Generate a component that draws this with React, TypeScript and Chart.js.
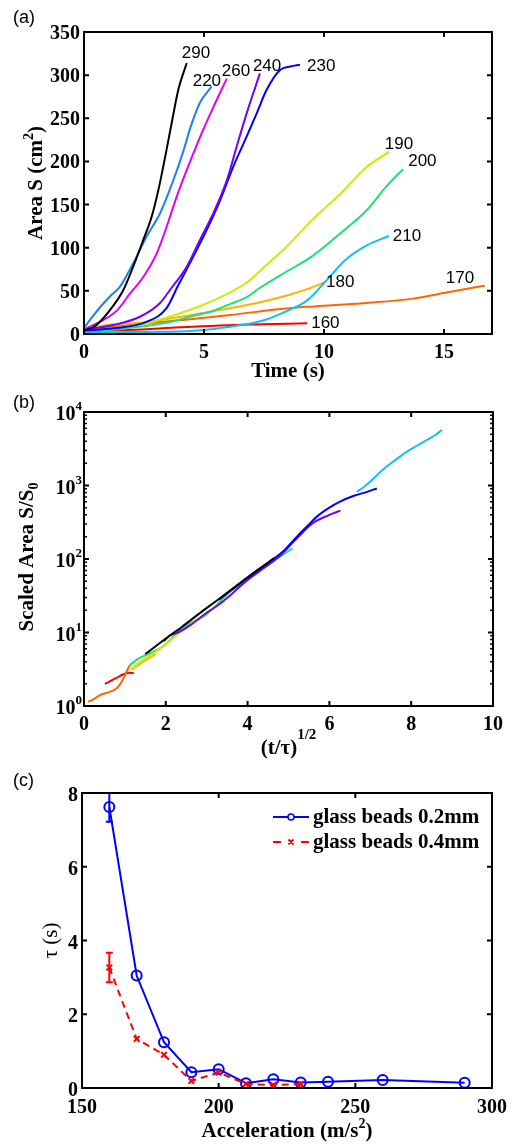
import React, { useEffect, useRef } from "react";
import { Chart, registerables } from "chart.js";
Chart.register(...registerables);

const SERIF = '"Liberation Serif", "Times New Roman", Times, serif';
const SANS = '"Liberation Sans", Arial, Helvetica, sans-serif';

// ---------------- Panel (a): area vs time ----------------
const aXTicks = [0, 5, 10, 15];
const aYTicks = [0, 50, 100, 150, 200, 250, 300, 350];
const aCurveLabels = ["160", "170", "180", "190", "200", "210", "220", "230", "240", "260", "290"];
const aColors = ["#FF0000", "#FF6600", "#FFB300", "#C4F000", "#20E070", "#10C0F0", "#1E80F0", "#0000FF", "#7000FF", "#DD00FF", "#000000"];

const aT160 = [0, 0.25, 1.9, 4.0, 6.8, 9.3];
const aS160 = [1.5, 3, 4.6, 7.7, 11, 12.4];
const aT170 = [0, 0.25, 1.9, 4.0, 6.1, 8.2, 9.6, 11.6, 13.7, 15.1, 16.7];
const aS170 = [2.5, 4.6, 10.4, 16, 22, 29, 32, 35.6, 41, 48, 56];
const aT180 = [0, 0.5, 2.6, 4.5, 5.7, 7.2, 8.5, 9.3, 10.0];
const aS180 = [4, 8.5, 14, 22, 28, 36, 45, 52, 59.5];
const aT190 = [0, 1.2, 2.6, 4.0, 5.4, 6.8, 7.6, 8.4, 9.5, 10.7, 11.8, 12.7];
const aS190 = [3.5, 6.6, 12.4, 24, 39, 60, 80, 100, 132, 163, 194, 211];
const aT200 = [0, 1.2, 3.3, 4.7, 5.4, 6.1, 6.8, 7.3, 8.3, 9.5, 10.7, 11.8, 12.6, 13.3];
const aS200 = [3, 5, 12.4, 22, 27, 35, 43, 53, 70, 90, 117, 144, 171, 191];
const aT210 = [0, 2.0, 4.0, 5.0, 6.1, 6.8, 7.5, 8.4, 9.3, 10.1, 10.9, 11.8, 12.7];
const aS210 = [1.5, 2.3, 2.8, 4.6, 8.5, 11.5, 16, 26, 39, 62, 86, 103, 113.6];
const aT220 = [0, 0.3, 0.67, 1.1, 1.5, 2.05, 2.61, 3.17, 3.72, 4.14, 4.42, 4.83, 5.32];
const aS220 = [7, 18, 31, 44, 55, 82, 113, 140, 178, 212, 238, 268, 287];
const aT230 = [0, 1.22, 2.6, 3.44, 3.9, 4.55, 5.11, 5.67, 6.22, 6.78, 7.2, 7.61, 8.17, 8.6, 9.0];
const aS230 = [4, 6.6, 14, 30, 55, 89.6, 120.5, 155, 194, 229, 256, 283, 306, 310, 312];
const aT240 = [0, 1.22, 2.33, 3.17, 3.58, 4.28, 4.83, 5.39, 5.95, 6.36, 6.78, 7.33];
const aS240 = [5, 10.4, 20, 36, 51, 78, 109, 140, 178, 217, 256, 302];
const aT260 = [0, 0.1, 0.8, 1.4, 1.92, 2.47, 3.03, 3.44, 3.86, 4.28, 4.83, 5.39, 5.95];
const aS260 = [5, 6.6, 16, 28, 47, 66, 93.5, 124, 159, 190, 228, 263, 296];
const aT290 = [0, 0.5, 1.2, 1.64, 2.05, 2.47, 2.82, 3.1, 3.38, 3.65, 3.93, 4.28];
const aS290 = [4, 10, 32, 51, 78, 109, 136, 167, 205, 244, 283, 314];

const aTimes = [aT160, aT170, aT180, aT190, aT200, aT210, aT220, aT230, aT240, aT260, aT290];
const aAreas = [aS160, aS170, aS180, aS190, aS200, aS210, aS220, aS230, aS240, aS260, aS290];
// label placement relative to each curve's last point (pixels)
const aLabelOffsets = [[4, 0], [-39, -7], [2, 0], [-4, -8], [5, -8], [4, 0], [-19, -5], [7, 2], [-7, -7], [-5, -7], [-5, -10]];

// ---------------- Panel (b): scaled area ----------------
const bXTicks = [0, 2, 4, 6, 8, 10];
const bYTicks = [1, 10, 100, 1000, 10000];
const b160X = [0.51, 0.62, 0.72, 0.82, 0.92, 1.0, 1.08, 1.22];
const b160Y = [2.0, 2.15, 2.31, 2.45, 2.64, 2.75, 2.84, 2.79];
const b170X = [0.1, 0.25, 0.39, 0.55, 0.64, 0.8, 0.92, 1.04, 1.12];
const b170Y = [1.14, 1.25, 1.41, 1.5, 1.57, 1.74, 2.14, 2.93, 3.6];
const b180X = [1.15, 1.3, 1.45, 1.6, 1.75];
const b180Y = [3.1, 3.5, 4.0, 4.5, 5.1];
const b190X = [1.15, 1.35, 1.6, 1.9, 2.2, 2.5, 2.8, 3.1];
const b190Y = [3.2, 3.9, 4.8, 6.3, 8.6, 11.8, 15.5, 20.5];
const b200X = [1.12, 1.3, 1.5, 1.7, 1.95, 2.4, 3.0, 3.6, 4.2, 4.8, 5.1];
const b200Y = [3.6, 4.3, 4.9, 5.5, 6.6, 11.5, 17.8, 37, 62, 108, 140];
const b240X = [1.95, 2.1, 2.3, 2.6, 3.0, 3.3, 3.6, 4.0, 4.4, 4.8, 5.2, 5.6, 6.0, 6.27];
const b240Y = [7.6, 9.1, 10, 12.6, 18.6, 24, 33, 52, 76, 112, 190, 309, 398, 455];
const b230X = [3.3, 3.7, 4.1, 4.5, 4.9, 5.2, 5.5, 5.7, 6.0, 6.26, 6.6, 6.9, 7.16];
const b230Y = [28, 42, 62, 89, 132, 200, 295, 380, 500, 603, 724, 813, 912];
const b290X = [1.5, 1.8, 2.1, 2.4, 2.8, 3.2, 3.6, 4.0, 4.3, 4.64];
const b290Y = [5.1, 6.8, 9.1, 12, 17.8, 26, 38, 56, 74, 102];
const b210X = [6.67, 6.85, 7.0, 7.2, 7.4, 7.65, 7.89, 8.15, 8.38, 8.6, 8.75];
const b210Y = [827, 960, 1130, 1450, 1815, 2300, 2880, 3500, 4160, 4900, 5690];
// drawing order: first drawn at the bottom
const bXs = [b200X, b180X, b190X, b240X, b230X, b290X, b210X, b160X, b170X];
const bYs = [b200Y, b180Y, b190Y, b240Y, b230Y, b290Y, b210Y, b160Y, b170Y];
const bColors = ["#20E070", "#FFB300", "#C4F000", "#7000FF", "#0000FF", "#000000", "#10C0F0", "#FF0000", "#FF6600"];

// ---------------- Panel (c): tau vs acceleration ----------------
const cXTicks = [150, 200, 250, 300];
const cYTicks = [0, 2, 4, 6, 8];
const cAccel02 = [160, 170, 180, 190, 200, 210, 220, 230, 240, 260, 290];
const cTau02 = [7.62, 3.05, 1.24, 0.43, 0.51, 0.13, 0.24, 0.15, 0.17, 0.22, 0.14];
const cErr02 = [0.4, 0, 0, 0, 0, 0, 0, 0, 0, 0, 0];
const cAccel04 = [160, 170, 180, 190, 200, 210, 220, 230];
const cTau04 = [3.27, 1.33, 0.9, 0.19, 0.42, 0.11, 0.08, 0.11];
const cErr04 = [0.4, 0, 0, 0, 0, 0, 0, 0];
const cLegend = ["glass beads 0.2mm", "glass beads 0.4mm"];

// ---------------- helpers ----------------
type Seg = { t: string; s?: number; dy?: number };

function drawRich(
  ctx: CanvasRenderingContext2D,
  segs: Seg[],
  x: number,
  y: number,
  o: { size: number; weight?: string; family?: string; align?: "left" | "center" | "right"; rotate?: boolean; color?: string }
) {
  const weight = o.weight ?? "bold";
  const family = o.family ?? SERIF;
  const font = (sg: Seg) => `${weight} ${Math.round(o.size * (sg.s ?? 1))}px ${family}`;
  ctx.save();
  ctx.translate(x, y);
  if (o.rotate) ctx.rotate(-Math.PI / 2);
  ctx.textBaseline = "alphabetic";
  ctx.textAlign = "left";
  ctx.fillStyle = o.color ?? "#000";
  const widths = segs.map((sg) => {
    ctx.font = font(sg);
    return ctx.measureText(sg.t).width;
  });
  const total = widths.reduce((p, c) => p + c, 0);
  let cx = o.align === "center" ? -total / 2 : o.align === "right" ? -total : 0;
  segs.forEach((sg, i) => {
    ctx.font = font(sg);
    ctx.fillText(sg.t, cx, (sg.dy ?? 0) * o.size);
    cx += widths[i];
  });
  ctx.restore();
}

type AxCfg = {
  id: string;
  xTicks: number[];
  yTicks: number[];
  yMinor?: number[];
  xLabel: (v: number) => Seg[];
  yLabel: (v: number) => Seg[];
  xLabelDy: number;
  yLabelDx: number;
  yLabelDy: number;
  extra?: (chart: any) => void;
};

function axesPlugin(cfg: AxCfg) {
  return {
    id: cfg.id,
    afterDatasetsDraw(chart: any) {
      const { ctx, chartArea: a, scales } = chart;
      const xs = scales.x;
      const ys = scales.y;
      ctx.save();
      ctx.strokeStyle = "#000";
      ctx.lineWidth = 2;
      const L = 5;
      ctx.beginPath();
      for (const v of cfg.xTicks) {
        const p = xs.getPixelForValue(v);
        if (p > a.left + 2 && p < a.right - 2) {
          ctx.moveTo(p, a.bottom);
          ctx.lineTo(p, a.bottom - L);
          ctx.moveTo(p, a.top);
          ctx.lineTo(p, a.top + L);
        }
      }
      for (const v of cfg.yTicks) {
        const p = ys.getPixelForValue(v);
        if (p > a.top + 2 && p < a.bottom - 2) {
          ctx.moveTo(a.left, p);
          ctx.lineTo(a.left + L, p);
          ctx.moveTo(a.right, p);
          ctx.lineTo(a.right - L, p);
        }
      }
      ctx.stroke();
      if (cfg.yMinor) {
        ctx.lineWidth = 1.5;
        ctx.beginPath();
        for (const v of cfg.yMinor) {
          const p = ys.getPixelForValue(v);
          ctx.moveTo(a.left, p);
          ctx.lineTo(a.left + 3, p);
          ctx.moveTo(a.right, p);
          ctx.lineTo(a.right - 3, p);
        }
        ctx.stroke();
      }
      ctx.lineWidth = 2;
      ctx.strokeRect(a.left, a.top, a.right - a.left, a.bottom - a.top);
      for (const v of cfg.xTicks) {
        drawRich(ctx, cfg.xLabel(v), xs.getPixelForValue(v), a.bottom + cfg.xLabelDy, { size: 20, align: "center" });
      }
      for (const v of cfg.yTicks) {
        drawRich(ctx, cfg.yLabel(v), a.left - cfg.yLabelDx, ys.getPixelForValue(v) + cfg.yLabelDy, { size: 20, align: "right" });
      }
      ctx.restore();
      if (cfg.extra) cfg.extra(chart);
    },
  };
}

function hiddenAxis(extra: any) {
  return {
    ticks: { display: false },
    grid: { display: false, drawTicks: false },
    border: { display: false },
    ...extra,
  };
}

function setTicks(vals: number[]) {
  return (sc: any) => {
    sc.ticks = vals.map((v) => ({ value: v }));
  };
}

// ---------------- chart builders ----------------
function makeA(canvas: HTMLCanvasElement) {
  const n = aTimes.length;
  return new Chart(canvas, {
    type: "line",
    data: {
      datasets: aTimes.map((ts, i) => ({
        label: aCurveLabels[i],
        data: ts.map((t, j) => ({ x: t, y: aAreas[i][j] })),
        borderColor: aColors[i],
        borderWidth: 2,
        pointRadius: 0,
        fill: false,
        cubicInterpolationMode: "monotone",
        order: n - i,
      })),
    },
    options: {
      animation: false,
      responsive: false,
      maintainAspectRatio: false,
      layout: { padding: { top: 32, right: 25, left: 0, bottom: 0 } },
      plugins: { legend: { display: false }, tooltip: { enabled: false } },
      scales: {
        x: hiddenAxis({ type: "linear", min: 0, max: 17, afterBuildTicks: setTicks(aXTicks), afterFit: (s: any) => { s.height = 54; } }),
        y: hiddenAxis({ type: "linear", min: 0, max: 350, afterBuildTicks: setTicks(aYTicks), afterFit: (s: any) => { s.width = 84; } }),
      },
    } as any,
    plugins: [
      axesPlugin({
        id: "axA",
        xTicks: aXTicks,
        yTicks: aYTicks,
        xLabel: (v) => [{ t: String(v) }],
        yLabel: (v) => [{ t: String(v) }],
        xLabelDy: 24,
        yLabelDx: 4,
        yLabelDy: 7,
        extra: (chart) => {
          const { ctx, scales, chartArea: a } = chart;
          ctx.save();
          ctx.font = `17px ${SANS}`;
          ctx.fillStyle = "#000";
          ctx.textBaseline = "middle";
          ctx.textAlign = "left";
          aTimes.forEach((ts, i) => {
            const k = ts.length - 1;
            const px = scales.x.getPixelForValue(ts[k]);
            const py = scales.y.getPixelForValue(aAreas[i][k]);
            ctx.fillText(aCurveLabels[i], px + aLabelOffsets[i][0], py + aLabelOffsets[i][1]);
          });
          ctx.restore();
          drawRich(ctx, [{ t: "Time (s)" }], (a.left + a.right) / 2, 377, { size: 21, align: "center" });
          drawRich(ctx, [{ t: "Area S (cm" }, { t: "2", s: 0.65, dy: -0.45 }, { t: ")" }], 42, (a.top + a.bottom) / 2, { size: 21, align: "center", rotate: true });
          drawRich(ctx, [{ t: "(a)" }], 13, 23, { size: 18, weight: "normal", family: SANS, align: "left" });
        },
      }),
    ],
  });
}

function makeB(canvas: HTMLCanvasElement) {
  const n = bXs.length;
  const minor: number[] = [];
  for (let d = 1; d < 10000; d *= 10) for (let m = 2; m <= 9; m++) minor.push(m * d);
  return new Chart(canvas, {
    type: "line",
    data: {
      datasets: bXs.map((xs, i) => ({
        data: xs.map((x, j) => ({ x, y: bYs[i][j] })),
        borderColor: bColors[i],
        borderWidth: 2,
        pointRadius: 0,
        fill: false,
        cubicInterpolationMode: "monotone",
        order: n - i,
      })),
    },
    options: {
      animation: false,
      responsive: false,
      maintainAspectRatio: false,
      layout: { padding: { top: 32, right: 24, left: 0, bottom: 0 } },
      plugins: { legend: { display: false }, tooltip: { enabled: false } },
      scales: {
        x: hiddenAxis({ type: "linear", min: 0, max: 10, afterBuildTicks: setTicks(bXTicks), afterFit: (s: any) => { s.height = 59; } }),
        y: hiddenAxis({ type: "logarithmic", min: 1, max: 10000, afterBuildTicks: setTicks(bYTicks), afterFit: (s: any) => { s.width = 84; } }),
      },
    } as any,
    plugins: [
      axesPlugin({
        id: "axB",
        xTicks: bXTicks,
        yTicks: bYTicks,
        yMinor: minor,
        xLabel: (v) => [{ t: String(v) }],
        yLabel: (v) => [{ t: "10" }, { t: String(Math.round(Math.log10(v))), s: 0.65, dy: -0.5 }],
        xLabelDy: 24,
        yLabelDx: 2,
        yLabelDy: 8,
        extra: (chart) => {
          const { ctx, chartArea: a } = chart;
          drawRich(ctx, [{ t: "(t/τ)" }, { t: "1/2", s: 0.7, dy: -0.7 }], (a.left + a.right) / 2, 374, { size: 21, align: "center" });
          drawRich(ctx, [{ t: "Scaled Area S/S" }, { t: "0", s: 0.65, dy: 0.25 }], 33, 177, { size: 21, align: "center", rotate: true });
          drawRich(ctx, [{ t: "(b)" }], 13, 28, { size: 18, weight: "normal", family: SANS, align: "left" });
        },
      }),
    ],
  });
}

function makeC(canvas: HTMLCanvasElement) {
  return new Chart(canvas, {
    type: "line",
    data: {
      datasets: [
        {
          label: cLegend[0],
          data: cAccel02.map((x, i) => ({ x, y: cTau02[i] })),
          borderColor: "#0000FF",
          borderWidth: 2,
          pointStyle: "circle",
          pointRadius: 5,
          pointBorderWidth: 2,
          pointBorderColor: "#0000FF",
          pointBackgroundColor: "rgba(0,0,0,0)",
          order: 2,
        },
        {
          label: cLegend[1],
          data: cAccel04.map((x, i) => ({ x, y: cTau04[i] })),
          borderColor: "#FF0000",
          borderWidth: 2,
          borderDash: [7, 5],
          pointStyle: "crossRot",
          pointRadius: 4,
          pointBorderWidth: 2,
          pointBorderColor: "#FF0000",
          pointBackgroundColor: "#FF0000",
          order: 1,
        },
      ],
    },
    options: {
      animation: false,
      responsive: false,
      maintainAspectRatio: false,
      layout: { padding: { top: 33, right: 25, left: 0, bottom: 0 } },
      plugins: { legend: { display: false }, tooltip: { enabled: false } },
      scales: {
        x: hiddenAxis({ type: "linear", min: 150, max: 300, afterBuildTicks: setTicks(cXTicks), afterFit: (s: any) => { s.height = 57; } }),
        y: hiddenAxis({ type: "linear", min: 0, max: 8, afterBuildTicks: setTicks(cYTicks), afterFit: (s: any) => { s.width = 82; } }),
      },
    } as any,
    plugins: [
      {
        id: "errbars",
        afterDatasetsDraw(chart: any) {
          const { ctx, chartArea: a, scales } = chart;
          ctx.save();
          ctx.beginPath();
          ctx.rect(a.left, a.top, a.right - a.left, a.bottom - a.top);
          ctx.clip();
          ctx.lineWidth = 2;
          const draw = (xs: number[], ys: number[], es: number[], color: string) => {
            ctx.strokeStyle = color;
            ctx.beginPath();
            xs.forEach((x, i) => {
              if (!es[i]) return;
              const px = scales.x.getPixelForValue(x);
              const p1 = scales.y.getPixelForValue(ys[i] - es[i]);
              const p2 = scales.y.getPixelForValue(ys[i] + es[i]);
              ctx.moveTo(px, p1);
              ctx.lineTo(px, p2);
              ctx.moveTo(px - 3.5, p1);
              ctx.lineTo(px + 3.5, p1);
              ctx.moveTo(px - 3.5, p2);
              ctx.lineTo(px + 3.5, p2);
            });
            ctx.stroke();
          };
          draw(cAccel02, cTau02, cErr02, "#0000FF");
          draw(cAccel04, cTau04, cErr04, "#FF0000");
          ctx.restore();
        },
      },
      axesPlugin({
        id: "axC",
        xTicks: cXTicks,
        yTicks: cYTicks,
        xLabel: (v) => [{ t: String(v) }],
        yLabel: (v) => [{ t: String(v) }],
        xLabelDy: 25,
        yLabelDx: 4,
        yLabelDy: 8,
        extra: (chart) => {
          const { ctx, chartArea: a } = chart;
          // legend
          ctx.save();
          const y1 = 57;
          const y2 = 82;
          ctx.lineWidth = 2;
          ctx.strokeStyle = "#0000FF";
          ctx.beginPath();
          ctx.moveTo(273, y1);
          ctx.lineTo(309, y1);
          ctx.stroke();
          ctx.lineWidth = 1.5;
          ctx.beginPath();
          ctx.arc(291, y1, 3, 0, Math.PI * 2);
          ctx.fillStyle = "#fff";
          ctx.fill();
          ctx.stroke();
          ctx.strokeStyle = "#FF0000";
          ctx.lineWidth = 2;
          ctx.beginPath();
          ctx.moveTo(273, y2);
          ctx.lineTo(281, y2);
          ctx.moveTo(301, y2);
          ctx.lineTo(309, y2);
          ctx.moveTo(288.5, y2 - 2.5);
          ctx.lineTo(293.5, y2 + 2.5);
          ctx.moveTo(288.5, y2 + 2.5);
          ctx.lineTo(293.5, y2 - 2.5);
          ctx.stroke();
          ctx.restore();
          drawRich(ctx, [{ t: cLegend[0] }], 313, y1 + 6, { size: 21, align: "left" });
          drawRich(ctx, [{ t: cLegend[1] }], 313, y2 + 6, { size: 21, align: "left" });
          drawRich(ctx, [{ t: "Acceleration (m/s" }, { t: "2", s: 0.65, dy: -0.45 }, { t: ")" }], (a.left + a.right) / 2, 377, { size: 21, align: "center" });
          drawRich(ctx, [{ t: "τ (s)" }], 57, (a.top + a.bottom) / 2, { size: 21, weight: "normal", align: "center", rotate: true });
          drawRich(ctx, [{ t: "(c)" }], 13, 26, { size: 18, weight: "normal", family: SANS, align: "left" });
        },
      }),
    ],
  });
}

export default function App() {
  const refA = useRef<HTMLCanvasElement>(null);
  const refB = useRef<HTMLCanvasElement>(null);
  const refC = useRef<HTMLCanvasElement>(null);
  useEffect(() => {
    const charts = [makeA(refA.current!), makeB(refB.current!), makeC(refC.current!)];
    return () => charts.forEach((c) => c.destroy());
  }, []);
  return (
    <div style={{ position: "absolute", left: 0, top: 0, width: 517, height: 1145, background: "#fff" }}>
      <canvas ref={refA} width={517} height={388} style={{ position: "absolute", left: 0, top: 0 }} />
      <canvas ref={refB} width={517} height={385} style={{ position: "absolute", left: 0, top: 380 }} />
      <canvas ref={refC} width={517} height={385} style={{ position: "absolute", left: 0, top: 760 }} />
    </div>
  );
}
